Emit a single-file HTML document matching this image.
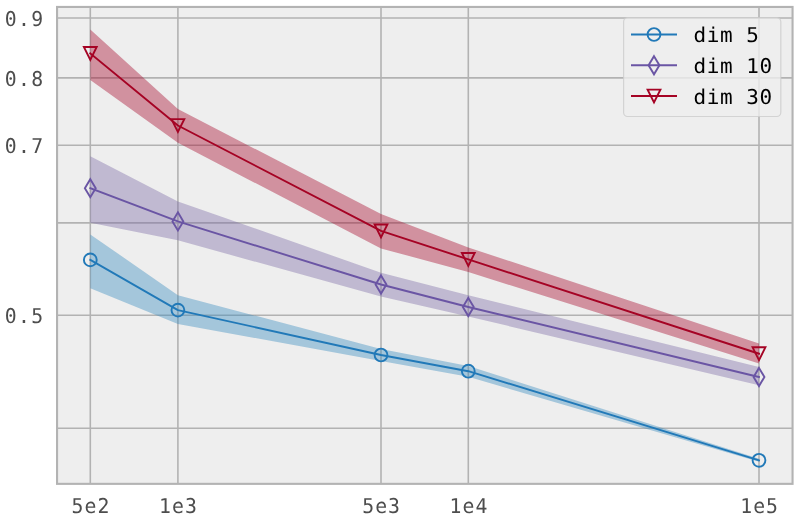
<!DOCTYPE html>
<html><head><meta charset="utf-8"><title>plot</title>
<style>
html,body{margin:0;padding:0;background:#fff;}
body{width:800px;height:519px;overflow:hidden;}
svg{display:block;}
text{font-family:"DejaVu Sans Mono","Liberation Mono",monospace;text-rendering:geometricPrecision;}
.tick{font-size:20.4px;fill:#4d4d4d;letter-spacing:1.07px;}
.leg{font-size:20.4px;fill:#000000;letter-spacing:0.53px;}
</style></head><body>
<svg width="800" height="519" viewBox="0 0 800 519">
<rect x="0" y="0" width="800" height="519" fill="#ffffff"/>
<rect x="57.05" y="6.95" width="735.5" height="476.9" fill="#eeeeee"/>
<g stroke="#b2b2b2" stroke-width="1.6">
<line x1="90.3" y1="6.95" x2="90.3" y2="483.9"/>
<line x1="177.9" y1="6.95" x2="177.9" y2="483.9"/>
<line x1="381.0" y1="6.95" x2="381.0" y2="483.9"/>
<line x1="468.3" y1="6.95" x2="468.3" y2="483.9"/>
<line x1="759.0" y1="6.95" x2="759.0" y2="483.9"/>
<line x1="57.05" y1="18.0" x2="792.5" y2="18.0"/>
<line x1="57.05" y1="77.9" x2="792.5" y2="77.9"/>
<line x1="57.05" y1="145.3" x2="792.5" y2="145.3"/>
<line x1="57.05" y1="222.9" x2="792.5" y2="222.9"/>
<line x1="57.05" y1="315.2" x2="792.5" y2="315.2"/>
<line x1="57.05" y1="428.2" x2="792.5" y2="428.2"/>
</g>
<clipPath id="c"><rect x="57.05" y="6.95" width="735.5" height="476.9"/></clipPath><g clip-path="url(#c)">
<polygon points="90.3,234.4 177.9,295.2 381.0,349.0 468.3,366.0 759.0,458.8 759.0,461.8 468.3,376.8 381.0,361.0 177.9,324.0 90.3,288.2" fill="#348ABD" fill-opacity="0.4"/>
<polyline points="90.3,259.9 177.9,310.1 381.0,355.0 468.3,371.2 759.0,460.3" fill="none" stroke="#2179b8" stroke-width="1.9" stroke-linecap="square" stroke-linejoin="round"/>
<polygon points="90.3,156.3 177.9,201.4 381.0,272.7 468.3,295.3 759.0,367.0 759.0,385.2 468.3,316.5 381.0,296.5 177.9,240.3 90.3,222.7" fill="#7A68A6" fill-opacity="0.4"/>
<polyline points="90.3,188.2 177.9,221.4 381.0,284.5 468.3,307.0 759.0,377.0" fill="none" stroke="#6a55a4" stroke-width="1.9" stroke-linecap="square" stroke-linejoin="round"/>
<polygon points="90.3,29.4 177.9,109.0 381.0,214.0 468.3,247.5 759.0,343.4 759.0,363.5 468.3,272.0 381.0,248.4 177.9,142.8 90.3,80.1" fill="#A60628" fill-opacity="0.4"/>
<polyline points="90.3,53.4 177.9,125.5 381.0,230.9 468.3,259.4 759.0,353.7" fill="none" stroke="#a50324" stroke-width="1.9" stroke-linecap="square" stroke-linejoin="round"/>
</g>
<circle cx="90.3" cy="259.9" r="6.40" fill="none" stroke="#2179b8" stroke-width="1.9"/>
<circle cx="177.9" cy="310.1" r="6.40" fill="none" stroke="#2179b8" stroke-width="1.9"/>
<circle cx="381.0" cy="355.0" r="6.40" fill="none" stroke="#2179b8" stroke-width="1.9"/>
<circle cx="468.3" cy="371.2" r="6.40" fill="none" stroke="#2179b8" stroke-width="1.9"/>
<circle cx="759.0" cy="460.3" r="6.40" fill="none" stroke="#2179b8" stroke-width="1.9"/>
<polygon points="90.3,179.15 95.73,188.2 90.3,197.25 84.87,188.2" fill="none" stroke="#6a55a4" stroke-width="1.9" stroke-linejoin="miter"/>
<polygon points="177.9,212.35 183.33,221.4 177.9,230.45 172.47,221.4" fill="none" stroke="#6a55a4" stroke-width="1.9" stroke-linejoin="miter"/>
<polygon points="381.0,275.45 386.43,284.5 381.0,293.55 375.57,284.5" fill="none" stroke="#6a55a4" stroke-width="1.9" stroke-linejoin="miter"/>
<polygon points="468.3,297.95 473.73,307.0 468.3,316.05 462.87,307.0" fill="none" stroke="#6a55a4" stroke-width="1.9" stroke-linejoin="miter"/>
<polygon points="759.0,367.95 764.43,377.0 759.0,386.05 753.57,377.0" fill="none" stroke="#6a55a4" stroke-width="1.9" stroke-linejoin="miter"/>
<polygon points="83.90,47.00 96.70,47.00 90.3,59.80" fill="none" stroke="#a50324" stroke-width="1.9" stroke-linejoin="miter"/>
<polygon points="171.50,119.10 184.30,119.10 177.9,131.90" fill="none" stroke="#a50324" stroke-width="1.9" stroke-linejoin="miter"/>
<polygon points="374.60,224.50 387.40,224.50 381.0,237.30" fill="none" stroke="#a50324" stroke-width="1.9" stroke-linejoin="miter"/>
<polygon points="461.90,253.00 474.70,253.00 468.3,265.80" fill="none" stroke="#a50324" stroke-width="1.9" stroke-linejoin="miter"/>
<polygon points="752.60,347.30 765.40,347.30 759.0,360.10" fill="none" stroke="#a50324" stroke-width="1.9" stroke-linejoin="miter"/>
<rect x="57.05" y="6.95" width="735.5" height="476.9" fill="none" stroke="#b3b3b3" stroke-width="2.1"/>
<text class="tick" transform="translate(90.9,512.7) scale(0.97,1)" text-anchor="middle">5e2</text>
<text class="tick" transform="translate(178.5,512.7) scale(0.97,1)" text-anchor="middle">1e3</text>
<text class="tick" transform="translate(381.6,512.7) scale(0.97,1)" text-anchor="middle">5e3</text>
<text class="tick" transform="translate(468.9,512.7) scale(0.97,1)" text-anchor="middle">1e4</text>
<text class="tick" transform="translate(759.6,512.7) scale(0.97,1)" text-anchor="middle">1e5</text>
<text class="tick" transform="translate(44.4,25.7) scale(0.97,1)" style="letter-spacing:1.35px" text-anchor="end">0.9</text>
<text class="tick" transform="translate(44.4,85.6) scale(0.97,1)" style="letter-spacing:1.35px" text-anchor="end">0.8</text>
<text class="tick" transform="translate(44.4,153.0) scale(0.97,1)" style="letter-spacing:1.35px" text-anchor="end">0.7</text>
<text class="tick" transform="translate(44.4,322.9) scale(0.97,1)" style="letter-spacing:1.35px" text-anchor="end">0.5</text>
<rect x="623.6" y="17.8" width="157.2" height="98.7" rx="4" ry="4" fill="#eeeeee" fill-opacity="0.8" stroke="#cccccc" stroke-opacity="0.8" stroke-width="1.2"/>
<line x1="631" y1="34.5" x2="677" y2="34.5" stroke="#2179b8" stroke-width="1.9"/>
<circle cx="654.0" cy="34.5" r="6.40" fill="none" stroke="#2179b8" stroke-width="1.9"/>
<text class="leg" transform="translate(693.6,42.0) scale(1.03,1)">dim 5</text>
<line x1="631" y1="65.2" x2="677" y2="65.2" stroke="#6a55a4" stroke-width="1.9"/>
<polygon points="654.0,56.20 659.43,65.2 654.0,74.30 648.57,65.2" fill="none" stroke="#6a55a4" stroke-width="1.9" stroke-linejoin="miter"/>
<text class="leg" transform="translate(693.6,72.8) scale(1.03,1)">dim 10</text>
<line x1="631" y1="96.0" x2="677" y2="96.0" stroke="#a50324" stroke-width="1.9"/>
<polygon points="647.60,89.60 660.40,89.60 654.0,102.40" fill="none" stroke="#a50324" stroke-width="1.9" stroke-linejoin="miter"/>
<text class="leg" transform="translate(693.6,103.5) scale(1.03,1)">dim 30</text>
</svg></body></html>
